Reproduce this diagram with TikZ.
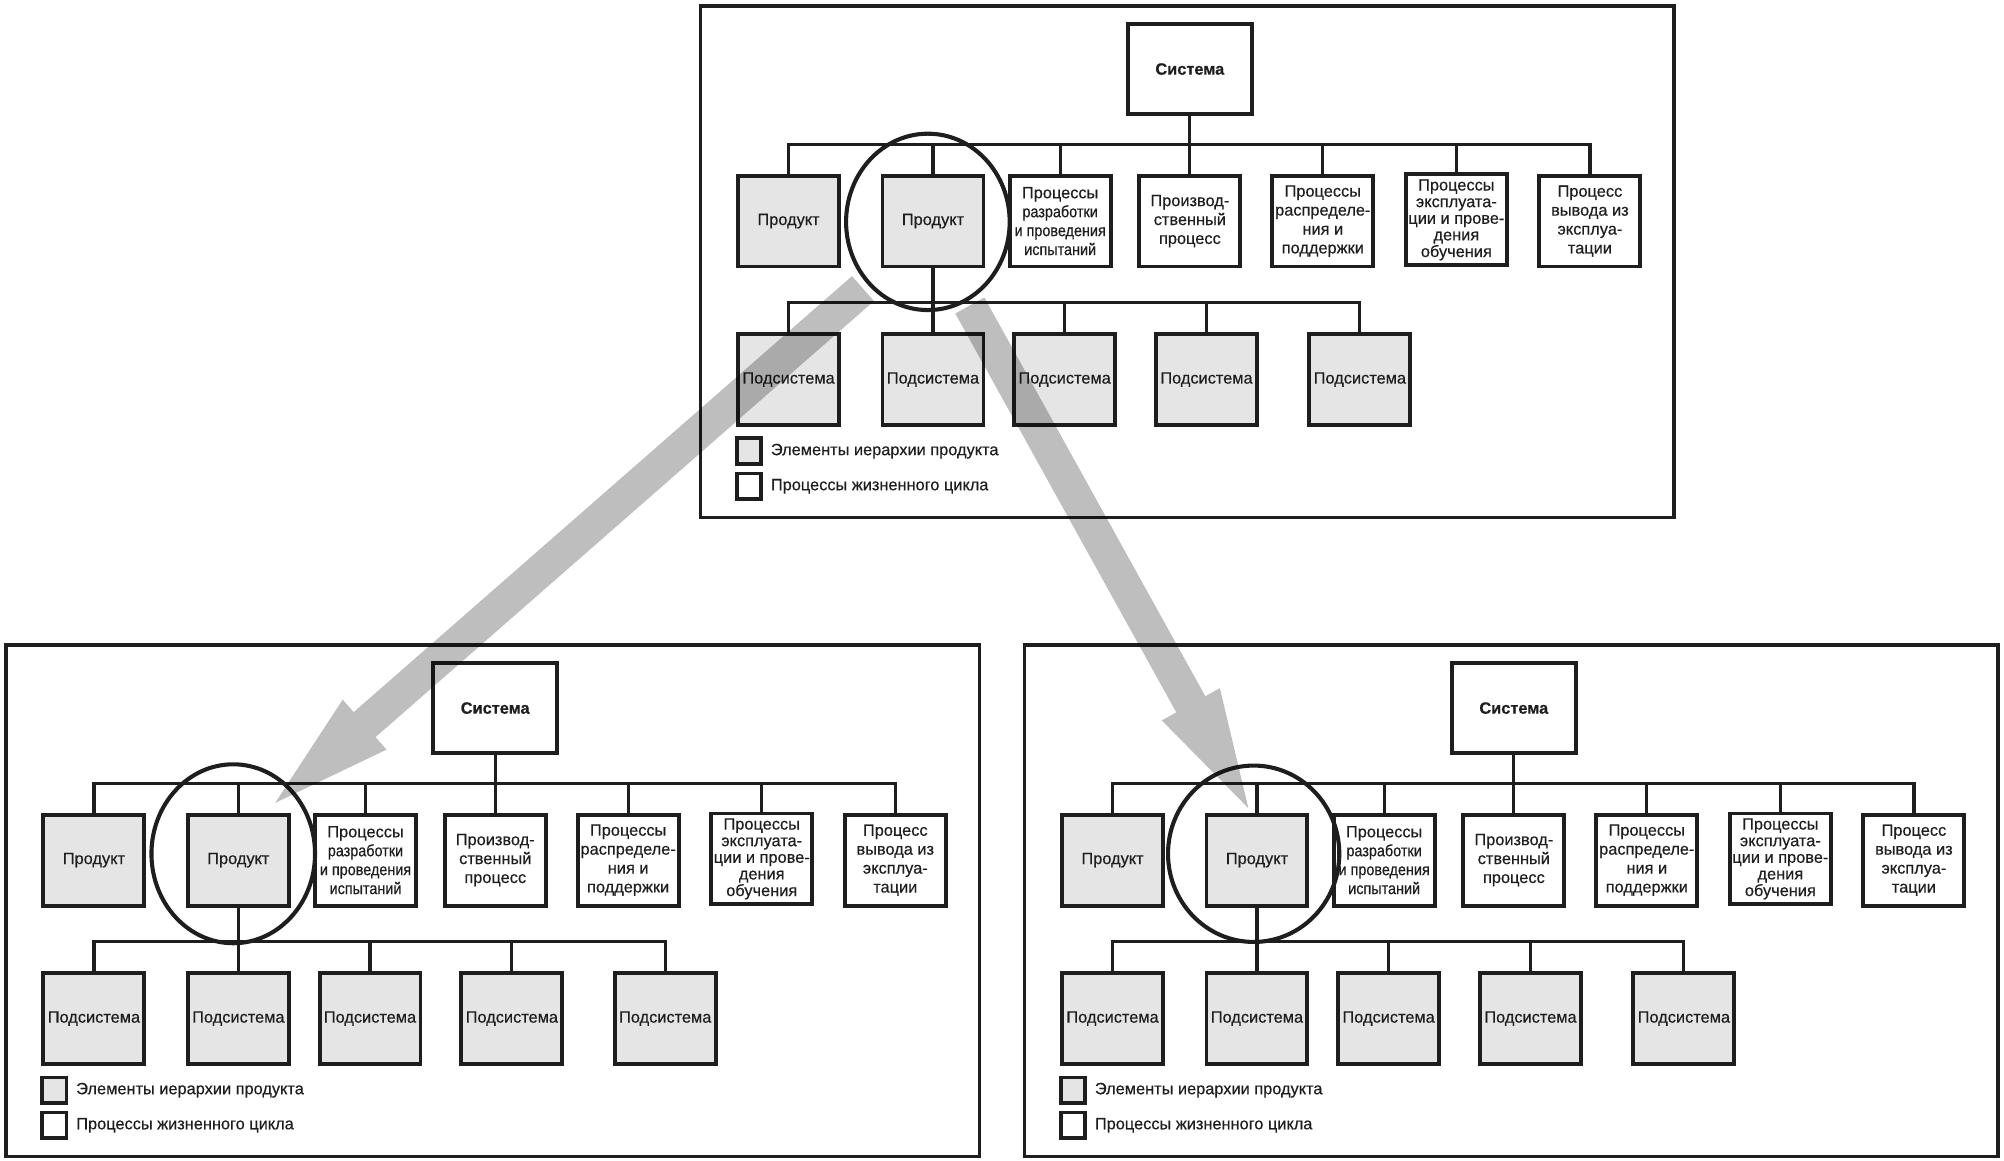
\documentclass[tikz,border=0pt]{standalone}
\usepackage{fontspec}
\setmainfont[FakeBold=0.45]{Liberation Sans}
\newfontfamily\narrowfont[FakeStretch=0.88,FakeBold=0.45]{Liberation Sans}
\usetikzlibrary{calc}
\definecolor{linec}{RGB}{30,30,30}
\definecolor{boxgray}{RGB}{229,229,229}
\definecolor{arrgray}{RGB}{190,190,190}
\newcommand\boxfont{\fontsize{12.8}{14.8}\selectfont}
\newcommand\tightfont{\fontsize{12.8}{13}\selectfont}
\tikzset{
  frame/.style={draw=linec, line width=2.8pt},
  box/.style={draw=linec, line width=3.1pt, fill=white, minimum width=79pt, minimum height=71pt,
              inner sep=0pt, align=center, text=linec, font=\boxfont},
  gbox/.style={box, fill=boxgray},
  sysbox/.style={box, minimum width=97pt},
  conn/.style={draw=linec, line width=2.5pt},
  legsq/.style={draw=linec, line width=3pt, minimum width=19pt, minimum height=20pt, inner sep=0pt},
  legtext/.style={anchor=west, inner sep=0pt, text=linec, font=\boxfont},
  lens/.style={draw=linec, line width=3.2pt},
}
% #1 name, #2 dx, #3 dy, #4 ellipse cx, #5 cy, #6 rx, #7 ry
\newcommand\drawpanel[7]{%
\begin{scope}[shift={(#2,#3)}]
  \draw[frame] (548,4.5) rectangle (1310,405);
  \node[sysbox] (#1-sys) at (931,54) {\textbf{Система}};
  \node[gbox] (#1-p1) at (617,173) {Продукт};
  \node[gbox] (#1-p2) at (730,173) {Продукт};
  \node[box] (#1-b3) at (829.5,173) {Процессы\\{\narrowfont разработки}\\{\narrowfont и проведения}\\{\narrowfont испытаний}};
  \node[box] (#1-b4) at (931,173) {Производ-\\ственный\\процесс};
  \node[box] (#1-b5) at (1035,173) {Процессы\\распределе-\\ния и\\поддержки};
  \node[box, font=\tightfont] (#1-b6) at (1139.5,172) {Процессы\\эксплуата-\\ции и прове-\\дения\\обучения};
  \node[box] (#1-b7) at (1244,173) {Процесс\\вывода из\\эксплуа-\\тации};
  \node[gbox] (#1-s1) at (617,297) {Подсистема};
  \node[gbox] (#1-s2) at (730,297) {Подсистема};
  \node[gbox] (#1-s3) at (833,297) {Подсистема};
  \node[gbox] (#1-s4) at (944,297) {Подсистема};
  \node[gbox] (#1-s5) at (1064,297) {Подсистема};
  \coordinate (#1-j1) at (931,113);
  \coordinate (#1-j2) at (730,236.5);
  % first-level connectors
  \draw[conn] (#1-sys.south) -- (#1-j1);
  \draw[conn] (#1-p1.north) |- (#1-j1) -| (#1-b7.north);
  \foreach \n in {p2,b3,b4,b5,b6}{\draw[conn] (#1-\n.north) -- (#1-\n.north |- #1-j1);}
  % second-level connectors
  \draw[conn] (#1-p2.south) -- (#1-s2.north);
  \draw[conn] (#1-s1.north) |- (#1-j2) -| (#1-s5.north);
  \foreach \n in {s3,s4}{\draw[conn] (#1-\n.north) -- (#1-\n.north |- #1-j2);}
  % legend
  \node[legsq, fill=boxgray] (#1-lg1) at (586,353) {};
  \node[legsq, fill=white] (#1-lg2) at (586,380.5) {};
  \node[legtext] (#1-lt1) at (603,353) {Элементы иерархии продукта};
  \node[legtext] (#1-lt2) at (603,380.5) {Процессы жизненного цикла};
  % lens
  \draw[lens] (#4,#5) ellipse [x radius=#6pt, y radius=#7pt];
  \coordinate (#1-lens) at (#4,#5);
\end{scope}}

\begin{document}
\begin{tikzpicture}[x=1pt,y=-1pt]
  \useasboundingbox (0,0) rectangle (1568,908.4);
  \drawpanel{t}{0}{0}{726}{173.6}{64}{69}
  \drawpanel{l}{-543.5}{500}{726}{168}{64}{70}
  \drawpanel{r}{253.5}{500}{727.4}{168}{67}{69}
  % big arrows
  \coordinate (a1s) at (675.2,225.8);
  \coordinate (a1t) at (215.3,628.2);
  \coordinate (a2s) at (758.8,239);
  \coordinate (a2t) at (976.8,632.4);
  \coordinate (a1h) at ($(a1t)!93pt!(a1s)$);
  \coordinate (a2h) at ($(a2t)!93pt!(a2s)$);
  \begin{scope}[blend mode=multiply]
    \fill[arrgray] ($(a1s)!13pt!90:(a1t)$) -- ($(a1h)!13pt!90:(a1t)$) -- ($(a1h)!26pt!90:(a1t)$)
      -- (a1t) -- ($(a1h)!26pt!-90:(a1t)$) -- ($(a1h)!13pt!-90:(a1t)$) -- ($(a1s)!13pt!-90:(a1t)$) -- cycle;
    \fill[arrgray] ($(a2s)!13pt!90:(a2t)$) -- ($(a2h)!13pt!90:(a2t)$) -- ($(a2h)!26pt!90:(a2t)$)
      -- (a2t) -- ($(a2h)!26pt!-90:(a2t)$) -- ($(a2h)!13pt!-90:(a2t)$) -- ($(a2s)!13pt!-90:(a2t)$) -- cycle;
  \end{scope}
\end{tikzpicture}
\end{document}
